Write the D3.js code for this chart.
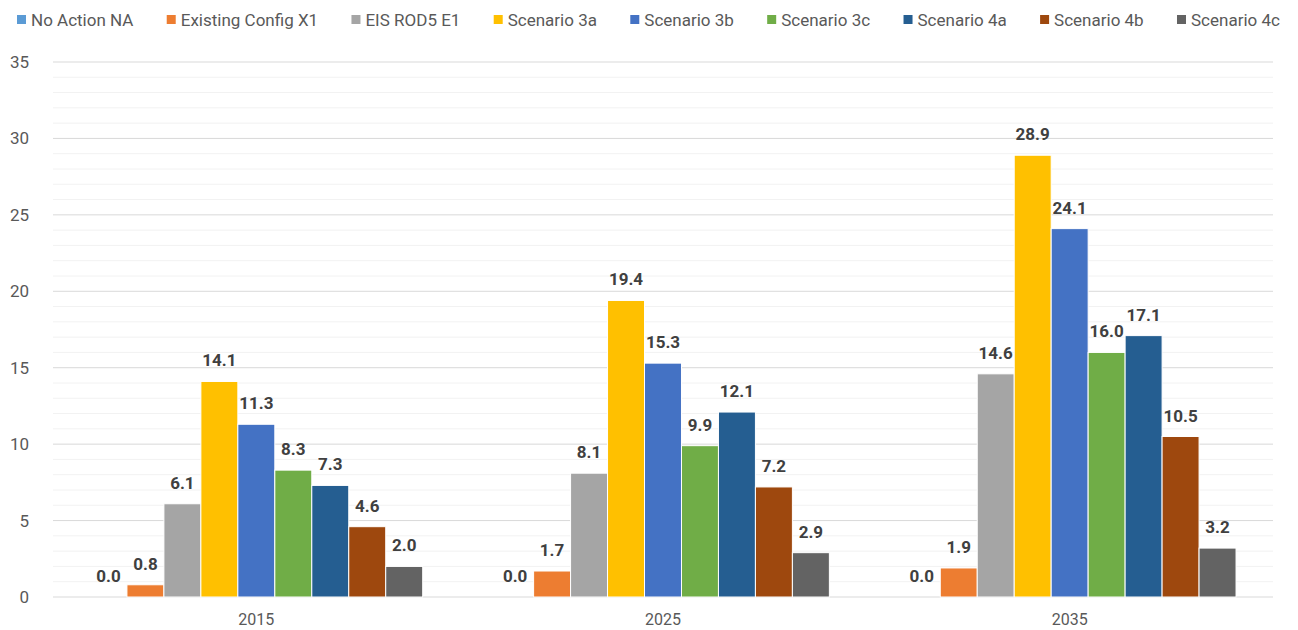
<!DOCTYPE html>
<html>
<head>
<meta charset="utf-8">
<script src="https://cdn.jsdelivr.net/npm/d3@7"></script>
<style>
  body { margin: 0; background: #fff; }
  text { font-family: Roboto, "Open Sans", sans-serif; }
</style>
</head>
<body>
<div id="chart"></div>
<script>
// Data
const years = ["2015", "2025", "2035"];
const seriesNames = ["No Action NA", "Existing Config X1", "EIS ROD5 E1", "Scenario 3a", "Scenario 3b",
    "Scenario 3c", "Scenario 4a", "Scenario 4b", "Scenario 4c"];
const seriesColors = ["#5B9BD5", "#ED7D31", "#A5A5A5", "#FFC000", "#4472C4",
    "#70AD47", "#255E91", "#9E480E", "#636363"];
const noAction = [0.0, 0.0, 0.0];
const existingX1 = [0.8, 1.7, 1.9];
const eisE1 = [6.1, 8.1, 14.6];
const sc3a = [14.1, 19.4, 28.9];
const sc3b = [11.3, 15.3, 24.1];
const sc3c = [8.3, 9.9, 16.0];
const sc4a = [7.3, 12.1, 17.1];
const sc4b = [4.6, 7.2, 10.5];
const sc4c = [2.0, 2.9, 3.2];
const yTicks = [0, 5, 10, 15, 20, 25, 30, 35];

const allSeries = [noAction, existingX1, eisE1, sc3a, sc3b, sc3c, sc4a, sc4b, sc4c];

// Dimensions and layout
const width = 1298;
const height = 630;
const margin = { top: 62, right: 25, bottom: 33, left: 53 };
const plotW = width - margin.left - margin.right;
const plotH = height - margin.top - margin.bottom;

const svg = d3.select("#chart")
    .append("svg")
    .attr("width", width)
    .attr("height", height);

const g = svg.append("g")
    .attr("transform", `translate(${margin.left},${margin.top})`);

// Scales
const y = d3.scaleLinear().domain([0, 35]).range([plotH, 0]);
const x0 = d3.scaleBand().domain(years).range([0, plotW]).padding(0);
const groupW = x0.bandwidth() * 9 / 11;
const x1 = d3.scaleBand().domain(seriesNames).range([0, groupW]).padding(0);

// Minor gridlines
g.append("g")
    .selectAll("line")
    .data(d3.range(1, 35).filter(v => v % 5 !== 0))
    .enter().append("line")
    .attr("x1", 0).attr("x2", plotW)
    .attr("y1", d => y(d)).attr("y2", d => y(d))
    .style("stroke", "#f2f2f2")
    .style("stroke-width", 1);

// Major gridlines
g.append("g")
    .selectAll("line")
    .data(yTicks)
    .enter().append("line")
    .attr("x1", 0).attr("x2", plotW)
    .attr("y1", d => y(d)).attr("y2", d => y(d))
    .style("stroke", "#d9d9d9")
    .style("stroke-width", 1);

// Y axis labels
g.append("g")
    .selectAll("text")
    .data(yTicks)
    .enter().append("text")
    .attr("x", -24)
    .attr("y", d => y(d))
    .attr("dy", "0.35em")
    .style("text-anchor", "end")
    .style("font-size", "17px")
    .style("fill", "#595959")
    .text(d => d);

// X axis labels
g.append("g")
    .selectAll("text")
    .data(years)
    .enter().append("text")
    .attr("x", d => x0(d) + x0.bandwidth() / 2)
    .attr("y", plotH + 22)
    .attr("dy", "0.35em")
    .style("text-anchor", "middle")
    .style("font-size", "16px")
    .style("fill", "#595959")
    .text(d => d);

// Bars
const groups = g.append("g")
    .selectAll("g")
    .data(years)
    .enter().append("g")
    .attr("transform", d => `translate(${x0(d) + (x0.bandwidth() - groupW) / 2},0)`);

const cells = (yr, i) => seriesNames.map((name, s) => ({ name, color: seriesColors[s], value: allSeries[s][i] }));

groups.selectAll("rect")
    .data(cells)
    .enter().append("rect")
    .attr("x", d => x1(d.name))
    .attr("y", d => y(d.value))
    .attr("width", x1.bandwidth())
    .attr("height", d => plotH - y(d.value))
    .style("fill", d => d.color)
    .style("stroke", "#fff")
    .style("stroke-width", 1);

// Data labels
groups.selectAll("text")
    .data(cells)
    .enter().append("text")
    .attr("x", d => x1(d.name) + x1.bandwidth() / 2)
    .attr("y", d => y(d.value) - 15)
    .style("text-anchor", "middle")
    .style("font-size", "17px")
    .style("font-weight", "bold")
    .style("fill", "#404040")
    .text(d => d.value.toFixed(1));

// Legend
const legend = svg.append("g").attr("transform", "translate(0,20)");
const items = legend.selectAll("g")
    .data(seriesNames)
    .enter().append("g");

items.append("rect")
    .attr("y", -5)
    .attr("width", 9)
    .attr("height", 9)
    .style("fill", (d, i) => seriesColors[i]);

items.append("text")
    .attr("x", 14)
    .attr("dy", "0.35em")
    .style("font-size", "17px")
    .style("fill", "#595959")
    .text(d => d);

// Spread legend items across 17..1280
const widths = [];
items.each(function () { widths.push(this.getBBox().width); });
const total = d3.sum(widths);
const spacing = (1280 - 17 - total) / (widths.length - 1);
let pos = 17;
items.attr("transform", (d, i) => {
    const t = `translate(${pos},0)`;
    pos += widths[i] + spacing;
    return t;
});
</script>
</body>
</html>
